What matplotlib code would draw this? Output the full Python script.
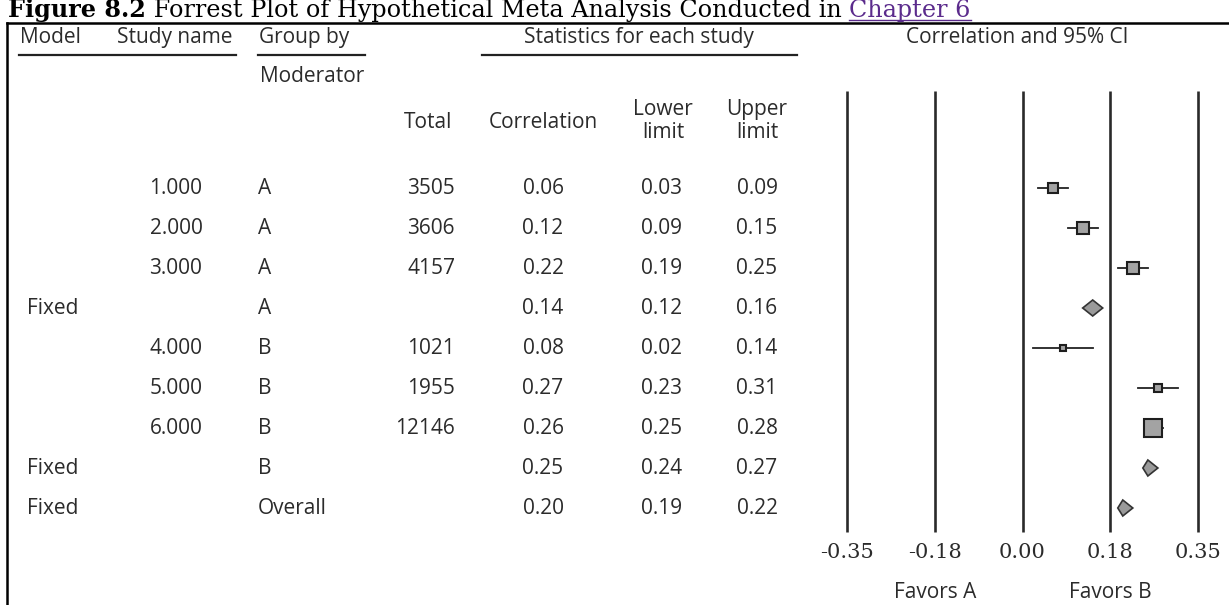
import matplotlib
matplotlib.use("Agg")
import matplotlib.pyplot as plt
from matplotlib.patches import Polygon

# forest plot data, one entry per row
model = ["", "", "", "Fixed", "", "", "", "Fixed", "Fixed"]
study = ["1.000", "2.000", "3.000", "", "4.000", "5.000", "6.000", "", ""]
group = ["A", "A", "A", "A", "B", "B", "B", "B", "Overall"]
total = [3505, 3606, 4157, None, 1021, 1955, 12146, None, None]
corr = [0.06, 0.12, 0.22, 0.14, 0.08, 0.27, 0.26, 0.25, 0.20]
lower = [0.03, 0.09, 0.19, 0.12, 0.02, 0.23, 0.25, 0.24, 0.19]
upper = [0.09, 0.15, 0.25, 0.16, 0.14, 0.31, 0.28, 0.27, 0.22]
ticks = [-0.35, -0.175, 0.0, 0.175, 0.35]
tick_labels = ["-0.35", "-0.18", "0.00", "0.18", "0.35"]

W, H = 1229, 605
fig = plt.figure(figsize=(W / 100, H / 100), dpi=100)
plt.rcParams["font.family"] = ["Open Sans", "DejaVu Sans"]

# page layer, pixel units
ax = fig.add_axes([0, 0, 1, 1])
ax.set_xlim(0, W)
ax.set_ylim(H, 0)
ax.axis("off")

# forest panel, correlation on x, pixel rows on y
fx = fig.add_axes([847 / W, 0, (1198 - 847) / W, 1])
fx.set_xlim(-0.35, 0.35)
fx.set_ylim(H, 0)
fx.axis("off")

txt = "#2b2b2b"
fs = 15

# title strip
r = fig.canvas.get_renderer()
x0 = 8
parts = [("Figure 8.2", "bold", "black"),
         (" Forrest Plot of Hypothetical Meta Analysis Conducted in ", "normal", "black"),
         ("Chapter 6", "normal", "#5b2b8c")]
for s, wt, c in parts:
    t = ax.text(x0, 17.5, s, fontsize=17.2, fontweight=wt, color=c,
                family="DejaVu Serif", va="baseline", ha="left")
    w = t.get_window_extent(r).width
    if s == "Chapter 6":
        ax.plot([x0, x0 + w], [20, 20], color=c, lw=1)
    x0 += w
ax.plot([7, W], [23, 23], color="black", lw=1.8)
ax.plot([7, 7], [23, H], color="black", lw=1.8)

# column headers
hy = 37.5
ax.text(20, hy, "Model", fontsize=fs, color=txt, va="center")
ax.text(117, hy, "Study name", fontsize=fs, color=txt, va="center")
ax.text(259, hy, "Group by", fontsize=fs, color=txt, va="center")
ax.text(639, hy, "Statistics for each study", fontsize=fs, color=txt, va="center", ha="center")
ax.text(1017, hy, "Correlation and 95% CI", fontsize=fs, color=txt, va="center", ha="center")
for a, b in [(19, 236), (258, 365), (482, 797)]:
    ax.plot([a, b], [55, 55], color="#222222", lw=1.6)
ax.text(260, 76, "Moderator", fontsize=fs, color=txt, va="center")
ax.text(452, 123, "Total", fontsize=fs, color=txt, va="center", ha="right")
ax.text(543, 123, "Correlation", fontsize=fs, color=txt, va="center", ha="center")
ax.text(663, 121, "Lower\nlimit", fontsize=fs, color=txt, va="center", ha="center", linespacing=1.15)
ax.text(757, 121, "Upper\nlimit", fontsize=fs, color=txt, va="center", ha="center", linespacing=1.15)

# table rows
rows = [188 + 40 * i for i in range(len(corr))]
for i, y in enumerate(rows):
    ax.text(27, y, model[i], fontsize=fs, color=txt, va="center")
    ax.text(176, y, study[i], fontsize=fs, color=txt, va="center", ha="center")
    ax.text(258, y, group[i], fontsize=fs, color=txt, va="center")
    if total[i] is not None:
        ax.text(455, y, str(total[i]), fontsize=fs, color=txt, va="center", ha="right")
    ax.text(543, y, f"{corr[i]:.2f}", fontsize=fs, color=txt, va="center", ha="center")
    ax.text(662, y, f"{lower[i]:.2f}", fontsize=fs, color=txt, va="center", ha="center")
    ax.text(757, y, f"{upper[i]:.2f}", fontsize=fs, color=txt, va="center", ha="center")

# reference lines and axis labels
fx.vlines(ticks, 91, 532, color="#2a2a2a", lw=1.9, clip_on=False)
for t, lab in zip(ticks, tick_labels):
    fx.text(t, 552, lab, fontsize=15, color=txt, ha="center", va="center",
            family="DejaVu Serif")
fx.text(-0.175, 592, "Favors A", fontsize=fs, color=txt, ha="center", va="center")
fx.text(0.175, 592, "Favors B", fontsize=fs, color=txt, ha="center", va="center")

# study boxes sized by total, diamonds for pooled rows
nmax = max(n for n in total if n is not None)
for i, y in enumerate(rows):
    if total[i] is not None:
        side = 18 * (total[i] / nmax) ** 0.4
        fx.plot([lower[i], upper[i]], [y, y], color="#222222", lw=1.3, zorder=2)
        fx.plot(corr[i], y, marker="s", ms=side * 0.72, mfc="#a3a3a3",
                mec="#1e1e1e", mew=1.5, zorder=3)
    else:
        d = Polygon([(lower[i], y), (corr[i], y - 8), (upper[i], y), (corr[i], y + 8)],
                    closed=True, fc="#9a9a9a", ec="#333333", lw=1.2, zorder=3)
        fx.add_patch(d)

fig.savefig("out.png", dpi=100)
